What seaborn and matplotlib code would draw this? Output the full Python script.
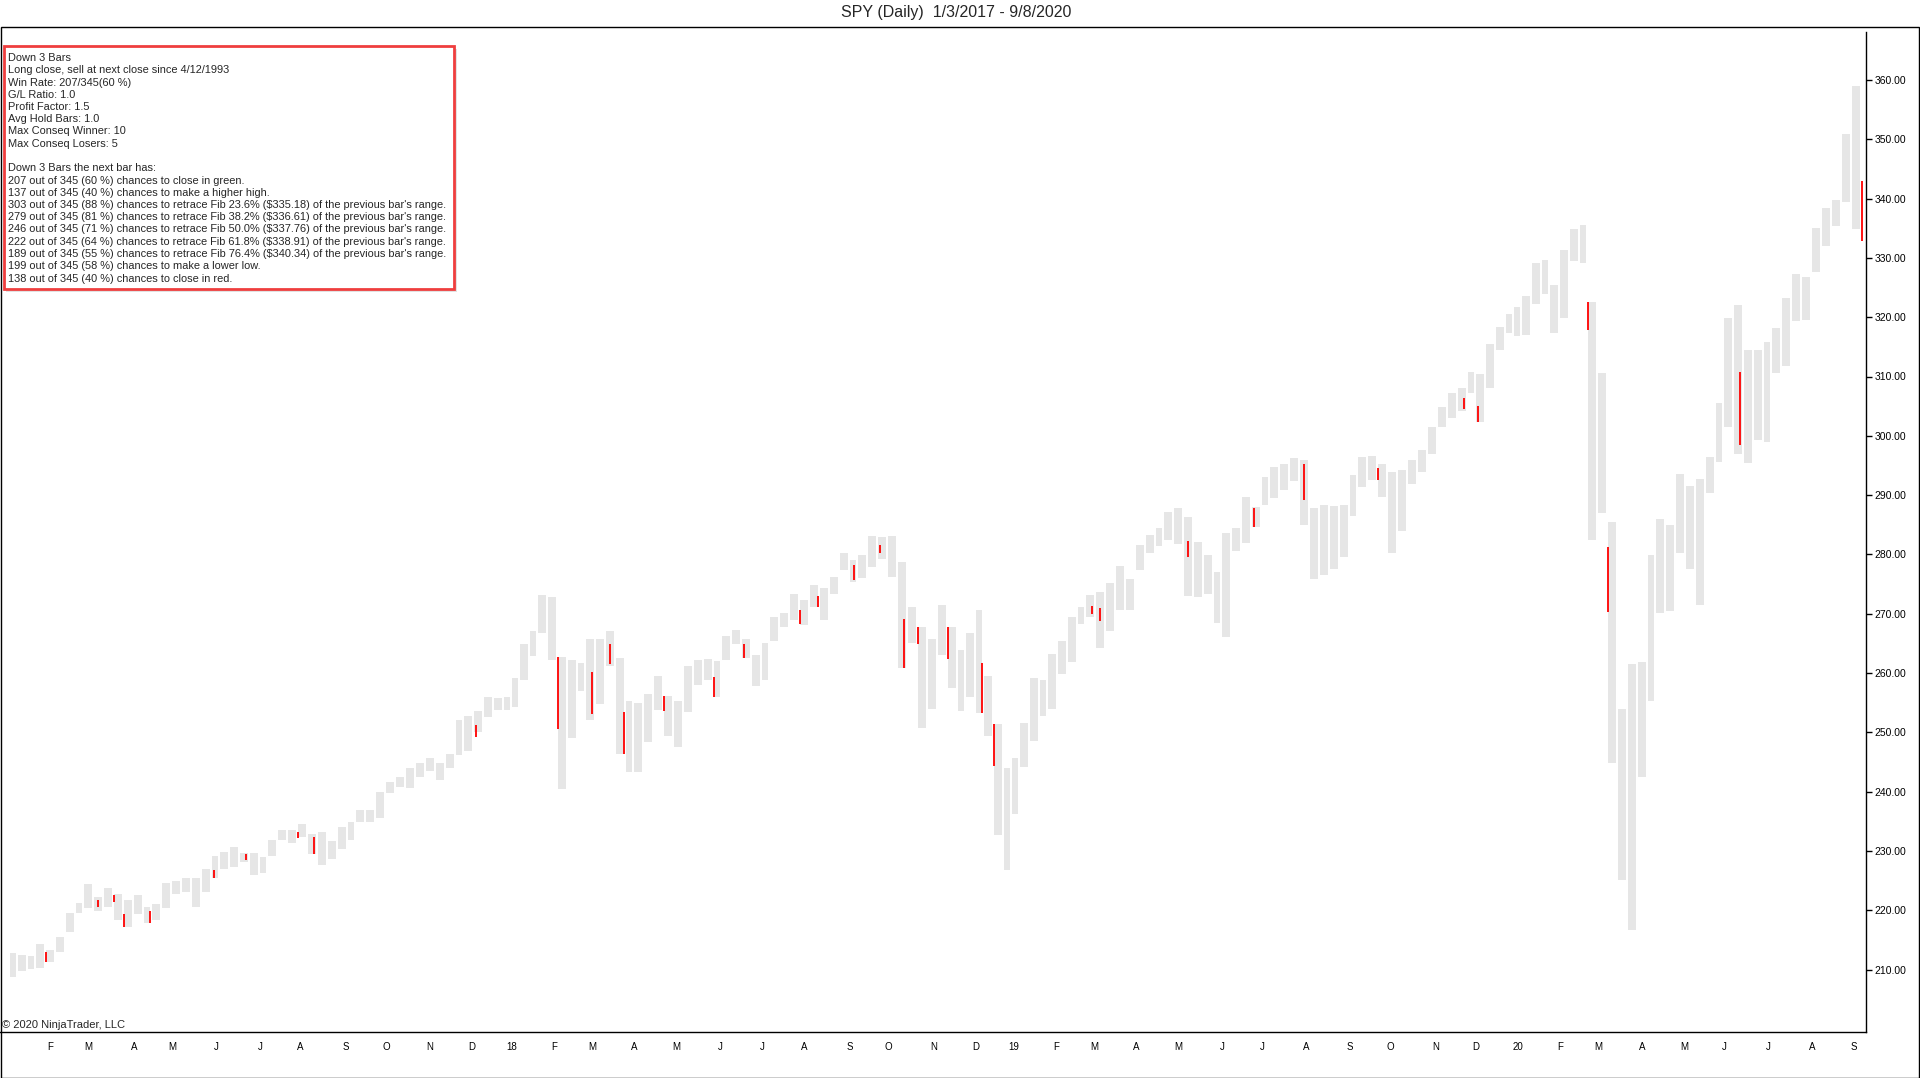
import numpy as np
import pandas as pd
import matplotlib
matplotlib.use('Agg')
import matplotlib.pyplot as plt
import seaborn as sns
from matplotlib.patches import Rectangle


# exchange holidays inside the chart range (trading-day x axis)
holidays = ['2017-01-16', '2017-02-20', '2017-04-14', '2017-05-29', '2017-07-04', '2017-09-04',
            '2017-11-23', '2017-12-25',
            '2018-01-01', '2018-01-15', '2018-02-19', '2018-03-30', '2018-05-28', '2018-07-04',
            '2018-09-03', '2018-11-22', '2018-12-05', '2018-12-25',
            '2019-01-01', '2019-01-21', '2019-02-18', '2019-04-19', '2019-05-27', '2019-07-04',
            '2019-09-02', '2019-11-28', '2019-12-25',
            '2020-01-01', '2020-01-20', '2020-02-17', '2020-04-10', '2020-05-25', '2020-07-03',
            '2020-09-07']

# weekly high / low (one value per trading week)
high_2017 = [212.7, 212.4, 212.2, 214.3, 213.3, 215.5, 219.6, 221.2, 224.5, 222.3, 223.7, 222.7, 221.7,
             222.6, 220.6, 221.0, 224.6, 225.0, 225.5, 225.5, 226.9, 229.1, 229.8, 230.7, 229.7, 229.7,
             228.9, 231.8, 233.5, 233.6, 234.5, 232.8, 233.2, 231.6, 234.1, 234.9, 236.9, 236.9, 240.0,
             241.7, 242.4, 243.9, 244.8, 245.6, 244.9, 246.4, 252.1, 252.7, 253.6, 255.9, 255.8, 255.9]
low_2017 = [208.8, 209.8, 210.1, 210.2, 211.2, 213.0, 216.4, 219.6, 220.3, 219.9, 220.6, 218.3, 217.1,
            219.4, 217.9, 218.3, 220.3, 222.8, 223.1, 220.6, 223.1, 225.4, 226.9, 227.3, 228.2, 225.9,
            226.3, 229.1, 231.8, 231.4, 232.3, 229.5, 227.6, 228.7, 230.4, 231.9, 234.9, 234.8, 235.5,
            239.7, 240.8, 240.6, 242.5, 243.5, 241.9, 243.9, 246.2, 246.9, 250.1, 252.5, 253.8, 253.8]
high_2018 = [259.2, 264.9, 267.1, 273.2, 272.9, 262.7, 262.2, 261.7, 265.7, 265.7, 267.1, 262.5, 255.2,
             254.9, 256.5, 259.5, 256.1, 255.2, 261.2, 262.2, 262.3, 262.1, 266.2, 267.2, 265.8, 263.0,
             265.1, 269.5, 270.2, 273.3, 272.3, 274.8, 274.3, 276.2, 280.3, 279.0, 279.9, 283.1, 282.9,
             283.1, 278.8, 271.2, 267.8, 265.8, 271.5, 267.8, 263.9, 266.7, 270.6, 259.5, 251.4, 243.9,
             245.6]
low_2018 = [254.3, 258.8, 262.9, 266.7, 262.2, 240.5, 249.0, 257.0, 252.1, 254.8, 261.2, 246.3, 243.3,
            243.3, 248.4, 253.8, 249.3, 247.6, 253.5, 258.0, 258.9, 256.0, 262.2, 264.9, 262.6, 257.8,
            258.8, 265.4, 267.7, 268.9, 268.1, 271.2, 268.9, 273.4, 277.3, 275.4, 276.0, 277.9, 279.3,
            276.2, 260.8, 265.1, 250.7, 253.9, 263.0, 257.4, 253.6, 256.0, 253.2, 249.3, 232.7, 226.8,
            236.3]
high_2019 = [251.6, 259.1, 258.8, 263.2, 265.4, 269.4, 271.2, 273.2, 273.7, 275.2, 278.0, 275.8, 281.6,
             283.3, 284.4, 287.2, 287.8, 286.3, 282.1, 279.9, 277.1, 283.6, 284.4, 289.7, 288.0, 293.0,
             294.7, 295.2, 296.2, 295.9, 287.8, 288.3, 288.2, 288.3, 293.4, 296.5, 296.6, 295.2, 293.9,
             294.2, 295.9, 297.6, 301.5, 304.9, 307.2, 308.0, 310.7, 310.5, 315.5, 318.4, 320.5, 321.8]
low_2019 = [244.1, 248.6, 252.7, 254.0, 259.8, 261.9, 268.3, 269.4, 264.3, 267.1, 270.6, 270.6, 277.3,
            280.2, 281.4, 282.5, 281.8, 273.0, 272.9, 273.4, 268.4, 266.1, 280.6, 282.0, 284.7, 288.3,
            289.5, 290.9, 292.3, 285.0, 275.8, 276.5, 277.5, 279.5, 286.4, 291.4, 292.6, 289.7, 280.2,
            284.0, 291.9, 293.9, 297.0, 301.4, 303.0, 304.2, 307.2, 302.4, 308.0, 314.5, 317.4, 316.8]
high_2020 = [323.6, 329.1, 329.7, 325.4, 331.4, 334.8, 335.5, 322.6, 310.6, 285.5, 254.0, 261.5, 261.9,
             279.9, 285.9, 285.0, 293.6, 291.5, 292.7, 296.5, 305.5, 319.8, 322.1, 314.5, 314.5, 315.9,
             318.1, 323.2, 327.3, 326.7, 335.0, 338.4, 339.8, 350.9, 359.0, 342.9]
low_2020 = [317.0, 322.3, 323.9, 317.4, 319.8, 329.4, 329.2, 282.4, 287.0, 244.8, 225.1, 216.7, 242.4,
            255.2, 270.1, 270.5, 280.2, 277.6, 271.5, 290.4, 295.5, 301.5, 297.0, 295.4, 299.3, 298.9,
            310.6, 311.8, 319.3, 319.6, 327.7, 332.0, 335.3, 339.5, 334.8, 332.9]

# "Down 3 Bars" signal days, drawn in red
red_dates = ['2017-01-30', '2017-03-08', '2017-03-20', '2017-03-27', '2017-04-13', '2017-05-31',
             '2017-06-22', '2017-07-31', '2017-08-10', '2017-12-05',
             '2018-02-05', '2018-03-01', '2018-03-14', '2018-03-23', '2018-04-23', '2018-05-29',
             '2018-06-19', '2018-07-30', '2018-08-10', '2018-09-06', '2018-09-25', '2018-10-11',
             '2018-10-22', '2018-11-12', '2018-12-07', '2018-12-17',
             '2019-02-28', '2019-03-06', '2019-05-08', '2019-06-25', '2019-07-31', '2019-09-23',
             '2019-11-21', '2019-12-03',
             '2020-02-24', '2020-03-09', '2020-06-11', '2020-09-08']
red_high = [213.0, 221.8, 222.6, 219.3, 219.9, 226.8, 229.5, 233.2, 232.3, 251.2,
            262.7, 260.2, 264.9, 253.5, 256.1, 259.4, 264.9, 270.6, 273.0, 278.2, 281.6, 269.1,
            267.8, 267.8, 261.7, 251.4,
            271.3, 270.9, 282.3, 287.8, 295.2, 294.5, 306.4, 305.0,
            322.6, 281.2, 310.8, 342.9]
red_low = [211.2, 220.6, 221.4, 217.1, 217.9, 225.4, 228.5, 232.2, 229.5, 249.2,
           250.5, 253.1, 261.5, 246.3, 253.6, 256.0, 262.6, 268.3, 271.2, 275.7, 280.3, 260.8,
           264.9, 262.3, 253.2, 244.3,
           269.9, 268.8, 279.6, 284.7, 289.2, 292.5, 304.6, 302.4,
           317.8, 270.3, 298.4, 332.9]

y_ticks = [210, 220, 230, 240, 250, 260, 270, 280, 290, 300, 310, 320, 330, 340, 350, 360]
month_letters = 'JFMAMJJASOND'

info_lines = [
    'Down 3 Bars',
    'Long close, sell at next close since 4/12/1993',
    'Win Rate: 207/345(60 %)',
    'G/L Ratio: 1.0',
    'Profit Factor: 1.5',
    'Avg Hold Bars: 1.0',
    'Max Conseq Winner: 10',
    'Max Conseq Losers: 5',
    '',
    'Down 3 Bars the next bar has:',
    '207 out of 345 (60 %) chances to close in green.',
    '137 out of 345 (40 %) chances to make a higher high.',
    "303 out of 345 (88 %) chances to retrace Fib 23.6% ($335.18) of the previous bar's range.",
    "279 out of 345 (81 %) chances to retrace Fib 38.2% ($336.61) of the previous bar's range.",
    "246 out of 345 (71 %) chances to retrace Fib 50.0% ($337.76) of the previous bar's range.",
    "222 out of 345 (64 %) chances to retrace Fib 61.8% ($338.91) of the previous bar's range.",
    "189 out of 345 (55 %) chances to retrace Fib 76.4% ($340.34) of the previous bar's range.",
    '199 out of 345 (58 %) chances to make a lower low.',
    '138 out of 345 (40 %) chances to close in red.',
]


#trading calendar -> bar index
days = pd.bdate_range('2017-01-03', '2020-09-08')
days = days[~days.isin(pd.to_datetime(holidays))]
cal = pd.DataFrame({'date': days, 'idx': np.arange(len(days))})

weeks = cal.groupby(cal['date'].dt.to_period('W-FRI'))['idx'].agg(['min', 'max', 'count'])
weeks['high'] = high_2017 + high_2018 + high_2019 + high_2020
weeks['low'] = low_2017 + low_2018 + low_2019 + low_2020

pos = pd.Series(cal['idx'].values, index=cal['date'])
red = pd.DataFrame({'idx': pos[pd.to_datetime(red_dates)].values, 'high': red_high, 'low': red_low})

months = cal.groupby(cal['date'].dt.to_period('M'))['idx'].min().iloc[1:]
month_labels = [f'{p.year % 100:02d}' if p.month == 1 else month_letters[p.month - 1] for p in months.index]


sns.set_style('white')
plt.rcParams['font.family'] = ['Liberation Sans', 'DejaVu Sans']

W, H = 1920, 1078
fig = plt.figure(figsize=(W / 100, H / 100), dpi=100)
fig.patch.set_facecolor('white')
ax = fig.add_axes([0, (H - 1032) / H, 1866 / W, (1032 - 32) / H])

ax.bar(x=(weeks['min'] + weeks['max']) / 2, height=weeks['high'] - weeks['low'], bottom=weeks['low'],
       width=weeks['count'] - 0.6, color='#e6e6e6', linewidth=0)
ax.vlines(red['idx'], red['low'], red['high'], color='#ff0000', linewidth=1.3)

ax.set_xlim(-5, 928)
ax.set_ylim(360 - (1032 - 80) / 5.93, 360 + (80 - 32) / 5.93)

ax.yaxis.tick_right()
ax.set_yticks(y_ticks)
ax.set_yticklabels([f'{v:.2f}' for v in y_ticks])
ax.set_xticks(months.values)
ax.set_xticklabels(month_labels)
ax.tick_params(axis='y', direction='out', length=4, width=1, labelsize=7.5, pad=2, colors='black')
ax.tick_params(axis='x', direction='out', length=3.5, width=1, labelsize=7, pad=3.5, colors='black')
for s in ['top', 'left']:
    ax.spines[s].set_visible(False)
for s in ['right', 'bottom']:
    ax.spines[s].set_color('black')
    ax.spines[s].set_linewidth(1)
ax.grid(False)

# outer frame below the title strip
fig.add_artist(Rectangle((0.5 / W, 0.5 / H), 1918.5 / W, (H - 27.5) / H, transform=fig.transFigure,
                         fill=False, edgecolor='black', linewidth=1))

fig.text(956 / W, 1 - 13 / H, 'SPY (Daily)  1/3/2017 - 9/8/2020', ha='center', va='center', fontsize=11.5)
fig.text(2 / W, 1 - 1025 / H, '\u00a9 2020 NinjaTrader, LLC', ha='left', va='center', fontsize=8)

# statistics box
fig.add_artist(Rectangle((6 / W, (H - 292) / H), 451 / W, 243 / H, transform=fig.transFigure,
                         facecolor='#d0d0d0', edgecolor='none', alpha=0.6))
fig.add_artist(Rectangle((4 / W, (H - 289) / H), 450 / W, 243 / H, transform=fig.transFigure,
                         facecolor='white', edgecolor='#ef3e3e', linewidth=2))
for i, line in enumerate(info_lines):
    fig.text(8 / W, 1 - (58 + i * 12.25) / H, line, ha='left', va='center', fontsize=7.9, parse_math=False)

fig.savefig('out.png', dpi=100)
